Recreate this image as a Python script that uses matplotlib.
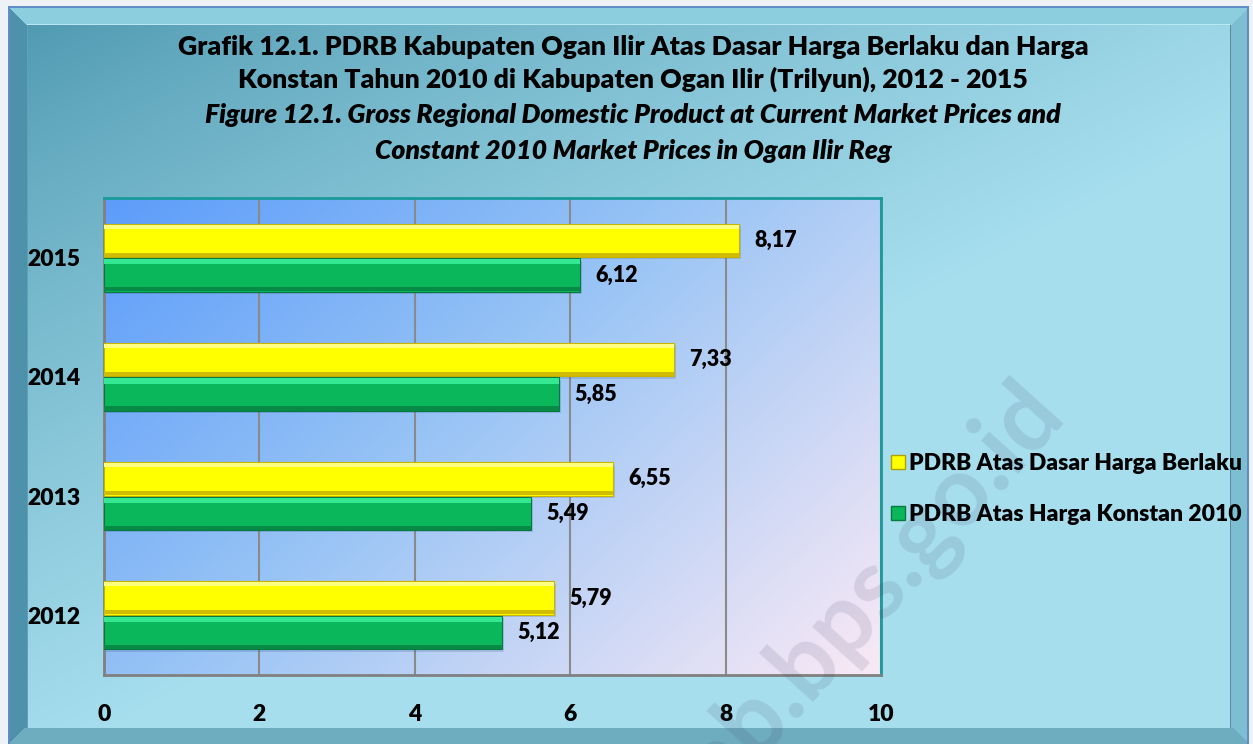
import numpy as np
import matplotlib
matplotlib.use('Agg')
import matplotlib.pyplot as plt
from matplotlib.patches import Rectangle

plt.rcParams['font.family'] = ['Lato', 'DejaVu Sans']

# ---------------- data ----------------
years = ['2012', '2013', '2014', '2015']
berlaku = [5.79, 6.55, 7.33, 8.17]      # PDRB Atas Dasar Harga Berlaku
konstan = [5.12, 5.49, 5.85, 6.12]      # PDRB Atas Harga Konstan 2010
xticks = [0, 2, 4, 6, 8, 10]
series_names = ['PDRB Atas Dasar Harga Berlaku', 'PDRB Atas Harga Konstan 2010']
title_lines = [
    'Grafik 12.1. PDRB Kabupaten Ogan Ilir Atas Dasar Harga Berlaku dan Harga',
    'Konstan Tahun 2010 di Kabupaten Ogan Ilir (Trilyun), 2012 - 2015',
    'Figure 12.1. Gross Regional Domestic Product at Current Market Prices and',
    'Constant 2010 Market Prices in Ogan Ilir Reg',
]
watermark = 'oganilirkab.bps.go.id'

W, H = 1253, 744
WEIGHT = 'heavy'
fig = plt.figure(figsize=(W / 100, H / 100), dpi=100)

# ---------------- figure background with bevelled frame ----------------
yy, xx = np.mgrid[0:H, 0:W].astype(float)
xn, yn = xx / W, yy / H
t = np.clip(0.85 * xn + 0.95 * yn, 0, 1) ** 0.75
c0 = np.array([70, 146, 170]) / 255
c1 = np.array([166, 222, 238]) / 255
img = c0[None, None, :] * (1 - t[..., None]) + c1[None, None, :] * t[..., None]

L, T, R, B = 8, 6, 1249, 744
bw = 19
img[:T, :, :] = np.array([238, 242, 247]) / 255
img[:, :L, :] = np.array([238, 242, 247]) / 255
img[:, R:, :] = np.array([238, 242, 247]) / 255
sl = (xx >= L) & (xx < L + bw) & (yy >= T)
img[sl] = (np.array([78, 145, 170]) / 255)
sr = (xx >= R - bw) & (xx < R) & (yy >= T)
img[sr] = (np.array([125, 190, 210]) / 255)
st = (yy >= T) & (yy < T + bw) & (xx >= L) & (xx < R) & (xx - L >= yy - T) & (R - xx >= yy - T)
img[st] = (np.array([140, 205, 222]) / 255)
sb = (yy >= B - 16) & (xx >= L) & (xx < R) & (xx - L >= B - yy) & (R - xx >= B - yy)
img[sb] = (np.array([110, 172, 192]) / 255)
img[T:T + 2, L:R] = np.array([95, 140, 195]) / 255
img[T:, L:L + 2] = np.array([95, 140, 195]) / 255
img[T:, R - 2:R] = np.array([95, 140, 195]) / 255
img[T + bw - 1, L + bw:R - bw] = np.array([185, 232, 242]) / 255
img[T + bw:B - 16, L + bw] = np.array([95, 160, 180]) / 255
img[T + bw:B - 16, R - bw] = np.array([90, 140, 160]) / 255

bg = fig.add_axes([0, 0, 1, 1], zorder=-10)
bg.imshow(img, extent=(0, W, H, 0), aspect='auto', interpolation='bilinear')
bg.set_xlim(0, W)
bg.set_ylim(H, 0)
bg.axis('off')

# ---------------- plot area ----------------
ax = fig.add_axes([104 / W, 1 - 675 / H, (881 - 104) / W, (675 - 198) / H])
ax.set_facecolor('none')
ax.set_xlim(0, 10)
ax.set_ylim(-0.5, 3.5)

n = 200
gi, gj = np.mgrid[0:n, 0:n] / (n - 1)
tt = 0.6 * gj + 0.4 * gi
s0 = np.array([92, 156, 250]) / 255
s1 = np.array([152, 196, 245]) / 255
s2 = np.array([250, 233, 246]) / 255
grad = np.where(tt[..., None] < 0.45,
                s0 + (s1 - s0) * (tt[..., None] / 0.45),
                s1 + (s2 - s1) * ((tt[..., None] - 0.45) / 0.55))
ax.imshow(grad, extent=(0, 10, -0.5, 3.5), aspect='auto', origin='upper', zorder=0)

ax.set_axisbelow(True)
ax.grid(axis='x', color='#8a8a8a', lw=1.5)
ax.grid(axis='y', visible=False)

y = np.arange(len(years))
h = 0.28
off = 0.145
ax.barh(y + off - 0.02, berlaku, height=h, left=0.03, color='#2a4a80', alpha=0.18, lw=0, zorder=2)
ax.barh(y - off - 0.02, konstan, height=h, left=0.03, color='#2a4a80', alpha=0.18, lw=0, zorder=2)
ax.barh(y + off, berlaku, height=h, color='#ffff00', edgecolor='#c8b400', lw=0.8, zorder=3)
ax.barh(y + off + h / 2 - 0.025, berlaku, height=0.035, color='#ffff80', lw=0, zorder=4)
ax.barh(y + off - h / 2 + 0.02, berlaku, height=0.035, color='#d2bc00', lw=0, zorder=4)
ax.barh(y - off, konstan, height=h, color='#0ab75a', edgecolor='#087a40', lw=0.8, zorder=3)
ax.barh(y - off + h / 2 - 0.03, konstan, height=0.045, color='#34e892', lw=0, zorder=4)
ax.barh(y - off - h / 2 + 0.02, konstan, height=0.035, color='#078a45', lw=0, zorder=4)

for yi, v in zip(y, berlaku):
    ax.text(v + 0.2, yi + off, f'{v:.2f}'.replace('.', ','), va='center', ha='left',
            fontsize=15.5, fontweight=WEIGHT, color='black', zorder=6)
for yi, v in zip(y, konstan):
    ax.text(v + 0.2, yi - off, f'{v:.2f}'.replace('.', ','), va='center', ha='left',
            fontsize=15.5, fontweight=WEIGHT, color='black', zorder=6)

ax.set_yticks(y)
ax.set_yticklabels(years)
ax.set_xticks(xticks)
ax.set_xticklabels([str(v) for v in xticks])
ax.tick_params(axis='both', length=0, labelsize=16.5)
ax.tick_params(axis='x', pad=21)
ax.tick_params(axis='y', pad=17)
for lab in ax.get_xticklabels() + ax.get_yticklabels():
    lab.set_fontweight(WEIGHT)

for side in ['top', 'right']:
    ax.spines[side].set_color('#1a9a9a')
    ax.spines[side].set_linewidth(2)
for side in ['left', 'bottom']:
    ax.spines[side].set_color('#808080')
    ax.spines[side].set_linewidth(2)

# ---------------- titles ----------------
ys = [47, 79, 115, 151]
for i, (line, yp) in enumerate(zip(title_lines, ys)):
    fig.text(633 / W, 1 - yp / H, line, ha='center', va='center', fontsize=19.2,
             fontweight=WEIGHT, style='italic' if i >= 2 else 'normal', color='black')

# ---------------- legend ----------------
handles = [Rectangle((0, 0), 1, 1, facecolor='#ffff00', edgecolor='#b0a000', lw=1),
           Rectangle((0, 0), 1, 1, facecolor='#0ab75a', edgecolor='#087a40', lw=1)]
fig.legend(handles, series_names, loc='center left', bbox_to_anchor=(880 / W, 1 - 489 / H),
           frameon=False, prop={'weight': WEIGHT, 'size': 16.5}, handlelength=0.6,
           handleheight=0.6, handletextpad=0.15, labelspacing=1.3, borderpad=0)

# ---------------- watermark ----------------
fig.text(1047 / W, 1 - 398 / H, watermark, rotation=48, rotation_mode='anchor',
         ha='right', va='center', fontsize=70, fontweight='bold', color='#404060',
         alpha=0.13, zorder=20)

fig.savefig('out.png', dpi=100)
